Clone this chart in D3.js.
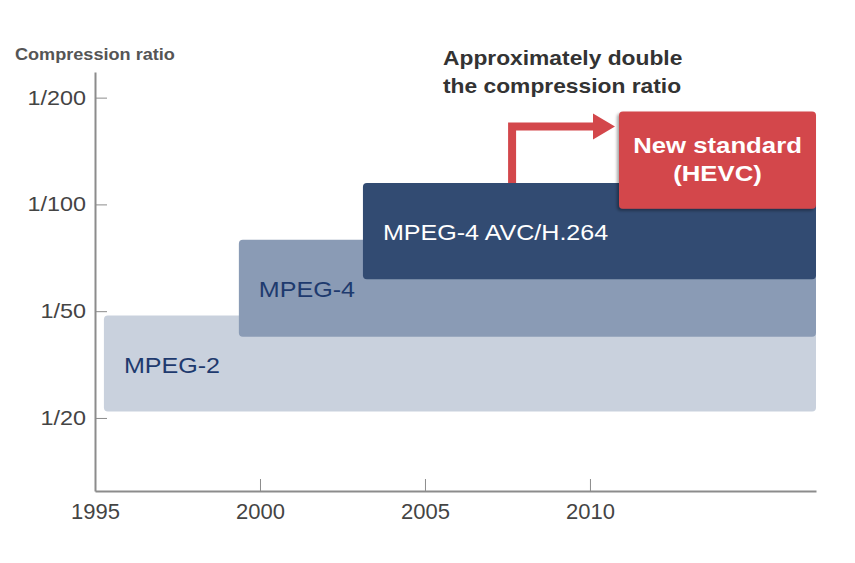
<!DOCTYPE html>
<html lang="en">
<head>
<meta charset="UTF-8">
<title>Compression ratio</title>
<script src="https://cdn.jsdelivr.net/npm/d3@7"></script>
<style>
    body{ margin:0; background:#fff; }
    svg text{ font-family:"Liberation Sans", Arial, sans-serif; }
    .axis path, .axis line{ fill:none; stroke:#8c8c8c; }
    .axis path{ stroke-width:2; }
    .axis line{ stroke-width:1; }
    .axis text{ font-size:20px; fill:#444; }
    .xaxis text{ font-size:22px; }
</style>
</head>
<body>
<div id="chart"></div>
<script>
// data
var yLevels = [0, 1, 2, 3];
var yLabels = ["1/20", "1/50", "1/100", "1/200"];
var xTicks = [1995, 2000, 2005, 2010];
var standards = ["MPEG-2", "MPEG-4", "MPEG-4 AVC/H.264", "New standard (HEVC)"];
var startYear = [1995.27, 1999.36, 2003.12, 2010.88];
var endYear = [2016.85, 2016.85, 2016.85, 2016.85];
var lowLevel = [0.06, 0.76, 1.30, 1.96];
var highLevel = [0.96, 1.67, 2.20, 2.87];
var fills = ["#c9d1dd", "#8a9bb5", "#324b72", "#d3474b"];
var labelColors = ["#1e3a6e", "#1e3a6e", "#ffffff", "#ffffff"];
var arrowYear = 2007.64, arrowLevel = 2.73;

var W = 855, H = 563, sx = 1.14;
var svg = d3.select("#chart").append("svg").attr("width", W).attr("height", H);

var defs = svg.append("defs");
defs.append("filter").attr("id", "shadow").attr("x", "-10%").attr("y", "-10%").attr("width", "120%").attr("height", "130%")
    .append("feDropShadow").attr("dx", -2).attr("dy", 2).attr("stdDeviation", 1.5)
    .attr("flood-color", "#000").attr("flood-opacity", 0.35);

var x = d3.scaleLinear().domain([1995, 2016.85]).range([95, 816]);
var y = d3.scaleLinear().domain([-0.684, 3.24]).range([491, 72]);

// bars
var bars = svg.append("g").selectAll("g").data(standards).enter().append("g");
bars.append("rect")
    .attr("x", function(d, i){ return x(startYear[i]); })
    .attr("y", function(d, i){ return y(highLevel[i]); })
    .attr("width", function(d, i){ return x(endYear[i]) - x(startYear[i]); })
    .attr("height", function(d, i){ return y(lowLevel[i]) - y(highLevel[i]); })
    .attr("rx", 4)
    .attr("fill", function(d, i){ return fills[i]; })
    .attr("filter", function(d, i){ return i == 3 ? "url(#shadow)" : null; });

// labels for the first three bars
bars.filter(function(d, i){ return i < 3; })
    .append("text")
    .attr("transform", function(d, i){
        var cy = (y(lowLevel[i]) + y(highLevel[i])) / 2;
        return "translate(" + (x(startYear[i]) + 20) + "," + (cy + 9) + ") scale(" + sx + ",1)";
    })
    .attr("font-size", 22)
    .attr("fill", function(d, i){ return labelColors[i]; })
    .text(function(d){ return d; });

// HEVC label, two lines, bold
var hevc = svg.append("text")
    .attr("transform", "translate(" + ((x(startYear[3]) + x(endYear[3])) / 2) + "," + ((y(lowLevel[3]) + y(highLevel[3])) / 2) + ") scale(1.17,1)")
    .attr("text-anchor", "middle")
    .attr("font-size", 22)
    .attr("font-weight", "bold")
    .attr("fill", labelColors[3]);
hevc.append("tspan").attr("x", 0).attr("y", -7).text("New standard");
hevc.append("tspan").attr("x", 0).attr("y", 21).text("(HEVC)");

// arrow
var ax = x(arrowYear), ay = y(arrowLevel), tipX = x(startYear[3]) - 4;
svg.append("path")
    .attr("d", "M" + ax + "," + y(highLevel[2]) + "V" + ay + "H" + (tipX - 18))
    .attr("fill", "none")
    .attr("stroke", fills[3])
    .attr("stroke-width", 8);
svg.append("path")
    .attr("d", "M" + (tipX - 22) + "," + (ay - 13) + "L" + tipX + "," + ay + "L" + (tipX - 22) + "," + (ay + 13) + "Z")
    .attr("fill", fills[3]);

// axes
var yAxis = d3.axisLeft(y).tickValues(yLevels).tickFormat(function(d){ return yLabels[d]; })
    .tickSizeInner(-12).tickSizeOuter(0).tickPadding(9);
var gy = svg.append("g").attr("class", "axis").attr("transform", "translate(95,0)").call(yAxis);
gy.selectAll("text").attr("x", -9 / 1.17).attr("transform", "scale(1.17,1)");

var xAxis = d3.axisBottom(x).tickValues(xTicks).tickFormat(d3.format("d"))
    .tickSizeInner(-12).tickSizeOuter(0).tickPadding(12);
svg.append("g").attr("class", "axis xaxis").attr("transform", "translate(0,491)").call(xAxis);

// titles
svg.append("text")
    .attr("transform", "translate(15,60) scale(1.065,1)")
    .attr("font-size", 17).attr("font-weight", "bold").attr("fill", "#555")
    .text("Compression ratio");

var note = svg.append("text")
    .attr("transform", "translate(443,0) scale(" + sx + ",1)")
    .attr("font-size", 20).attr("font-weight", "bold").attr("fill", "#333");
note.append("tspan").attr("x", 0).attr("y", 65).text("Approximately double");
note.append("tspan").attr("x", 0).attr("y", 93).text("the compression ratio");
</script>
</body>
</html>
